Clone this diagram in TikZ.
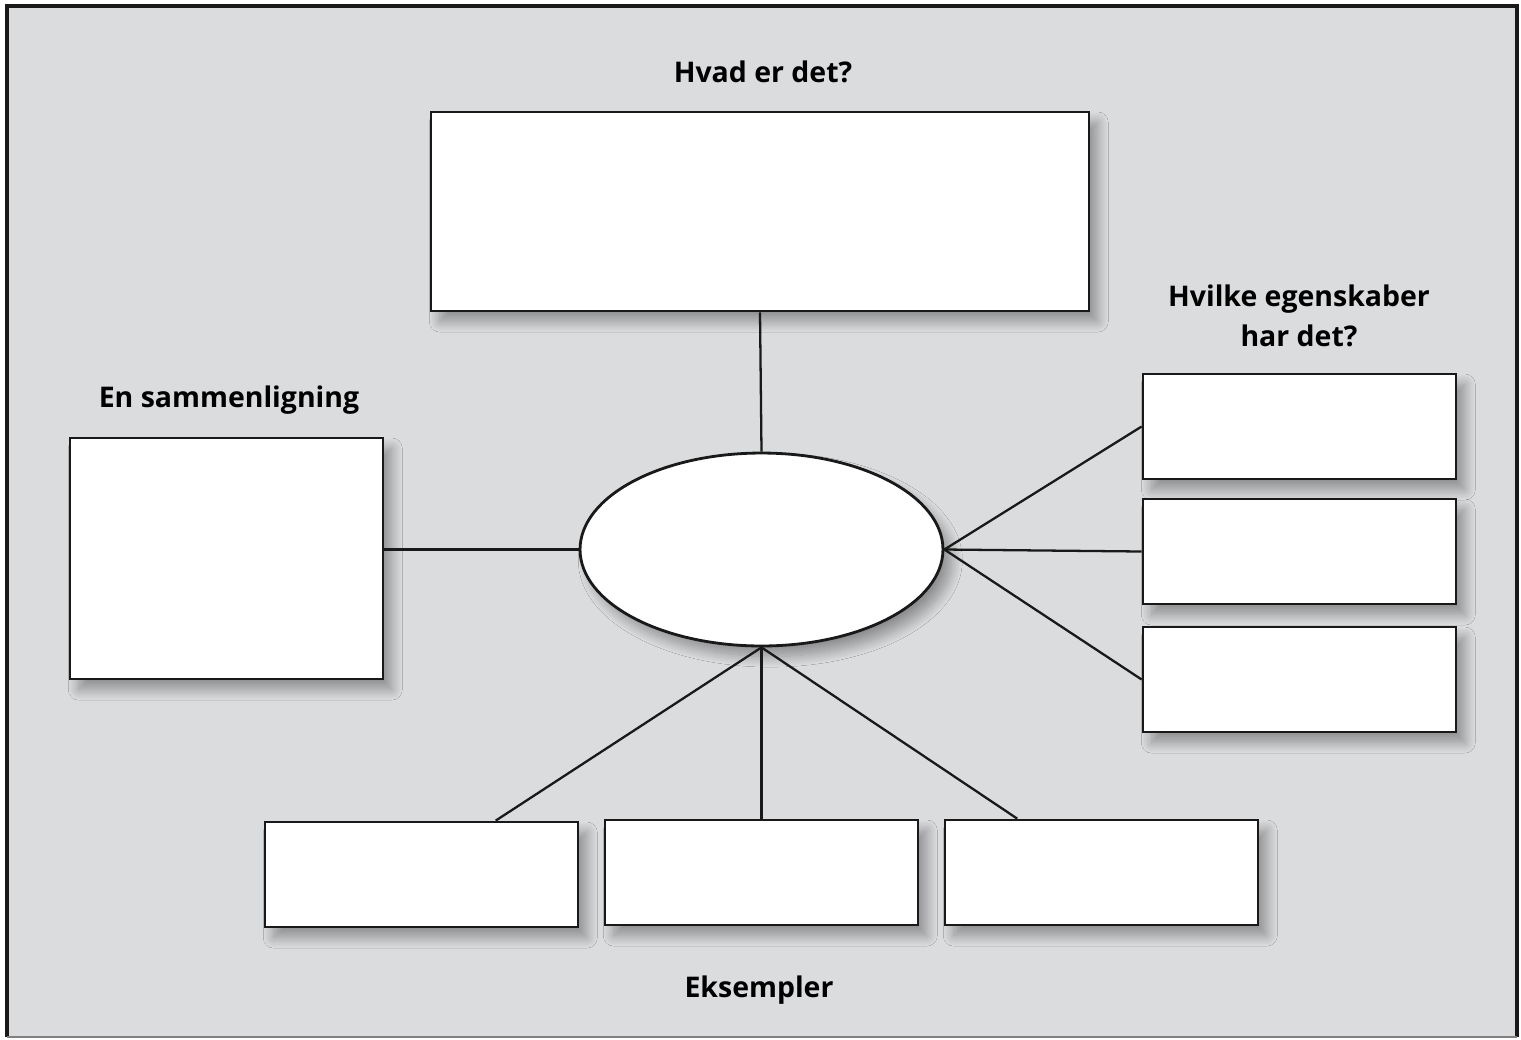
\documentclass[tikz,border=0pt]{standalone}
\usepackage{fontspec}
\setsansfont{Open Sans}
\usetikzlibrary{shapes.geometric,shadows.blur,calc}
\definecolor{bggray}{RGB}{219,220,222}
\tikzstyle{bx}=[rectangle,draw=black!90,line width=1.6pt,fill=white,inner sep=0pt,blur shadow={shadow xshift=5pt,shadow yshift=-6pt,shadow blur steps=15,shadow blur radius=6pt,shadow opacity=35}]
\tikzstyle{lbl}=[font=\sffamily\bfseries\fontsize{16.2}{22.5}\selectfont,align=center]
\tikzstyle{ln}=[line width=1.3pt,draw=black!90]
\begin{document}
\begin{tikzpicture}[x=0.02cm,y=-0.02cm]
\useasboundingbox (0,0) rectangle (1521,1039);
\fill[bggray] (7,6) rectangle (1517,1037);
\draw[line width=1.8pt,black!90] (7,1037) -- (7,6) -- (1517,6) -- (1517,1037);
\draw[line width=0.6pt,gray] (7,1037) -- (1517,1037);
% boxes
\node[bx,minimum width=13.16cm,minimum height=3.98cm] (what) at (760,211.5) {};
\node[bx,ellipse,minimum width=7.26cm,minimum height=3.86cm] (core) at (761.5,549.5) {};
\node[bx,minimum width=6.26cm,minimum height=4.82cm] (cmp) at (226.5,558.5) {};
\node[bx,minimum width=6.26cm,minimum height=2.1cm] (prop1) at (1299.5,426.5) {};
\node[bx,minimum width=6.26cm,minimum height=2.1cm] (prop2) at (1299.5,551.5) {};
\node[bx,minimum width=6.26cm,minimum height=2.1cm] (prop3) at (1299.5,679.5) {};
\node[bx,minimum width=6.26cm,minimum height=2.1cm] (ex1) at (421.5,874.5) {};
\node[bx,minimum width=6.26cm,minimum height=2.1cm] (ex2) at (761.5,872.5) {};
\node[bx,minimum width=6.26cm,minimum height=2.1cm] (ex3) at (1101.5,872.5) {};
% labels
\node[lbl] (whatlbl) at (763,72) {Hvad er det?};
\node[lbl] (cmplbl) at (229,400) {En sammenligning};
\node[lbl] (proplbl) at (1299,316) {Hvilke egenskaber\\har det?};
\node[lbl] (exlbl) at (759,990) {Eksempler};
% connectors
\draw[ln] (what.south) -- (core.north);
\draw[ln] (cmp.east |- core.west) -- (core.west);
\draw[ln] (core.east) -- (prop1.west); \draw[ln] (core.east) -- (prop2.west); \draw[ln] (core.east) -- (prop3.west);
\draw[ln] (core.south) -- ($(ex1.north west)!0.735!(ex1.north east)$);
\draw[ln] (core.south) -- (ex2.north);
\draw[ln] (core.south) -- ($(ex3.north west)!0.233!(ex3.north east)$);
\end{tikzpicture}
\end{document}
